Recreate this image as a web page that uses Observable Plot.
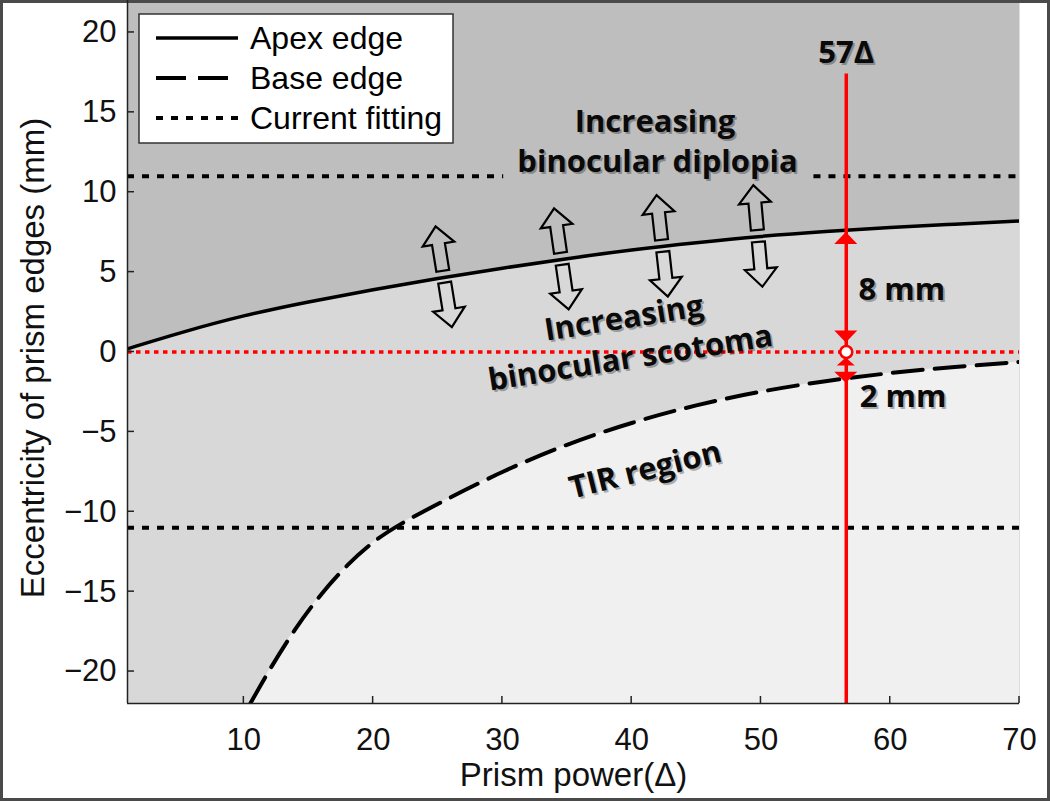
<!DOCTYPE html>
<html><head><meta charset="utf-8">
<script src="https://cdn.jsdelivr.net/npm/d3@7"></script>
<script src="https://cdn.jsdelivr.net/npm/@observablehq/plot@0.6"></script>
<style>
html,body{margin:0;padding:0;background:#fff;}
#chart{width:1050px;height:801px;}
</style></head><body><div id="chart"></div>
<script>
// ---- data ----
const prismPower = [1, 5, 10, 15, 20, 25, 30, 35, 40, 45, 50, 55, 60, 65, 70];
const apexEdge   = [0.2, 1.2, 2.3, 3.15, 3.9, 4.62, 5.25, 5.85, 6.4, 6.85, 7.25, 7.55, 7.8, 8.0, 8.2];
const basePower  = [10.5, 12, 14, 16, 18, 20, 22, 25, 30, 35, 40, 45, 50, 55, 60, 65, 70];
const baseEdge   = [-22, -19.85, -17.25, -15.1, -13.3, -11.85, -10.8, -9.5, -7.45, -5.75, -4.4, -3.3, -2.45, -1.8, -1.3, -0.93, -0.62];

const fittingY    = [11, 11, -11];
const fittingFrom = [1, 54.1, 1];
const fittingTo   = [30.1, 70, 70];

const selectedPower = 56.6;
const selectedTop = 17.4;
const redArrowY   = [7.6, 0, 0, -1.7];
const redArrowDir = ["up", "down", "up", "down"];

const arrowPower = [25.5, 34.6, 42.4, 49.8];

const xTicks = [10, 20, 30, 40, 50, 60, 70];
const yTicks = [-20, -15, -10, -5, 0, 5, 10, 15, 20];
const xLabel = "Prism power(Δ)";
const yLabel = "Eccentricity of prism edges (mm)";
const legendLabels = ["Apex edge", "Base edge", "Current fitting"];

const regionLabels = ["Increasing", "binocular diplopia", "Increasing", "binocular scotoma", "TIR region"];
const regionLabelX = [41.8, 42.0, 39.4, 39.9, 41.05];
const regionLabelY = [14.4, 11.9, 2.1, -0.4, -7.4];
const measureLabels = ["57Δ", "8 mm", "2 mm"];
const measureX = [56.6, 60.9, 61.0];
const measureY = [18.7, 3.9, -2.8];

// ---- tables built from the arrays ----
const apex = prismPower.map((x, i) => ({x, y: apexEdge[i]}));
const base = basePower.map((x, i) => ({x, y: baseEdge[i]}));
const fitting = fittingY.map((y, i) => ({y, x1: fittingFrom[i], x2: fittingTo[i]}));
const regions = regionLabels.map((t, i) => ({t, x: regionLabelX[i], y: regionLabelY[i]}));
const measures = measureLabels.map((t, i) => ({t, x: measureX[i], y: measureY[i]}));
const apexAt = d3.scaleLinear().domain(prismPower).range(apexEdge);

const regionAngles = [0, 0, -9, -9, -14];
const labelFont = "'Open Sans', Lato, sans-serif";
const axisFont = "'Liberation Sans', Arial, sans-serif";
const CURVE = "basis";

const DARK = "#bebebe", MID = "#d8d8d8", LIGHT = "#f0f0f0", RED = "#ff0000";

function decorations(index, scales, values, dim) {
  const sx = scales.x, sy = scales.y;
  const g = d3.create("svg:g");
  const L = dim.marginLeft, B = dim.height - dim.marginBottom;

  // hollow double arrows perpendicular to the apex edge
  const shape = "M-6.5,-6L-6.5,-33L-16,-33L0,-51L16,-33L6.5,-33L6.5,-6Z";
  for (const p of arrowPower) {
    const cx = sx(p), cy = sy(apexAt(p));
    const a = Math.atan2(sy(apexAt(p + 1)) - sy(apexAt(p - 1)), sx(p + 1) - sx(p - 1)) * 180 / Math.PI;
    for (const r of [a, a + 180]) {
      g.append("path").attr("d", shape)
        .attr("transform", `translate(${cx},${cy}) rotate(${r})`)
        .attr("fill", "none").attr("stroke", "#000").attr("stroke-width", 2.2)
        .attr("stroke-linejoin", "miter");
    }
  }

  // red arrowheads on the selected prism power
  const px = sx(selectedPower);
  const spec = [{off: 2, h: 12, w: 23}, {off: -9, h: 12, w: 23}, {off: 6, h: 8, w: 18}, {off: 4, h: 11, w: 23}];
  redArrowY.forEach((v, i) => {
    const s = spec[i];
    const tip = sy(v) + s.off;
    const baseY = redArrowDir[i] === "up" ? tip + s.h : tip - s.h;
    g.append("path")
      .attr("d", `M${px},${tip}L${px - s.w / 2},${baseY}L${px + s.w / 2},${baseY}Z`)
      .attr("fill", RED);
  });

  // inward ticks
  for (const t of yTicks) {
    g.append("line").attr("x1", L).attr("x2", L + 7).attr("y1", sy(t)).attr("y2", sy(t))
      .attr("stroke", "#222").attr("stroke-width", 1.5);
  }
  for (const t of xTicks) {
    g.append("line").attr("x1", sx(t)).attr("x2", sx(t)).attr("y1", B).attr("y2", B - 7)
      .attr("stroke", "#222").attr("stroke-width", 1.5);
  }

  // legend
  const lx = L + 12, ly = dim.marginTop + 14;
  const lg = g.append("g").attr("transform", `translate(${lx},${ly})`);
  lg.append("rect").attr("width", 314).attr("height", 129)
    .attr("fill", "#fff").attr("stroke", "#333").attr("stroke-width", 1.5);
  const styles = [
    {w: 3.5, dash: null},
    {w: 4, dash: "30,12"},
    {w: 4, dash: "7,8"}
  ];
  legendLabels.forEach((lab, i) => {
    const yy = 24 + i * 40;
    const ln = lg.append("line").attr("x1", 17).attr("x2", 99).attr("y1", yy).attr("y2", yy)
      .attr("stroke", "#000").attr("stroke-width", styles[i].w);
    if (styles[i].dash) ln.attr("stroke-dasharray", styles[i].dash);
    lg.append("text").attr("x", 111).attr("y", yy).attr("dy", "0.35em")
      .attr("text-anchor", "start")
      .attr("font-size", 32).attr("font-family", axisFont)
      .attr("fill", "#000").text(lab);
  });

  // figure border
  g.append("rect").attr("x", 1.5).attr("y", 1.5).attr("width", dim.width - 3).attr("height", dim.height - 3)
    .attr("fill", "none").attr("stroke", "#4a4a4a").attr("stroke-width", 3);
  return g.node();
}

const textShadow = (data, opts) => [
  Plot.text(data, {...opts, fill: "#000", fillOpacity: 0.28, dx: (opts.dx || 0) + 2, dy: (opts.dy || 0) + 2}),
  Plot.text(data, {...opts, fill: "#0a0a0a"})
];

const chart = Plot.plot({
  width: 1050, height: 801,
  marginLeft: 127, marginRight: 31, marginTop: 0, marginBottom: 98,
  x: {domain: [1, 70]},
  y: {domain: [-22, 22]},
  style: {fontFamily: axisFont, background: "#fff", color: "#111", overflow: "visible"},
  marks: [
    Plot.frame({fill: DARK, stroke: null}),
    Plot.areaY(apex, {x: "x", y1: -22, y2: "y", fill: MID, curve: CURVE, clip: true}),
    Plot.areaY(base, {x: "x", y1: -22, y2: "y", fill: LIGHT, curve: CURVE, clip: true}),
    Plot.ruleY(fitting, {y: "y", x1: "x1", x2: "x2", stroke: "#000", strokeWidth: 4, strokeDasharray: "7,8"}),
    Plot.ruleY([0], {stroke: RED, strokeWidth: 3.5, strokeDasharray: "4.5,4.5"}),
    Plot.line(apex, {x: "x", y: "y", stroke: "#000", strokeWidth: 3.5, curve: CURVE, clip: true}),
    Plot.line(base, {x: "x", y: "y", stroke: "#000", strokeWidth: 4, strokeDasharray: "30,12", curve: CURVE, clip: true}),
    Plot.ruleX([selectedPower], {y1: selectedTop, y2: -22, stroke: RED, strokeWidth: 3.5}),
    decorations,
    Plot.dot([{x: selectedPower, y: 0}], {x: "x", y: "y", r: 6, fill: "#fff", stroke: RED, strokeWidth: 2.5}),
    ...textShadow(regions, {x: "x", y: "y", text: "t", rotate: (d, i) => regionAngles[i], fontSize: 31, fontWeight: "bold", fontFamily: labelFont}),
    ...textShadow(measures, {x: "x", y: "y", text: "t", fontSize: 31, fontWeight: "bold", fontFamily: labelFont}),
    Plot.ruleX([1], {stroke: "#222", strokeWidth: 1.5}),
    Plot.ruleY([-22], {stroke: "#222", strokeWidth: 1.5}),
    Plot.axisY({ticks: yTicks, tickSize: 0, tickPadding: 11, fontSize: 31, label: null}),
    Plot.axisX({ticks: xTicks, tickSize: 0, tickPadding: 24, fontSize: 31, label: null}),
    Plot.text([xLabel], {frameAnchor: "bottom", textAnchor: "middle", lineAnchor: "middle", dy: 72, fontSize: 33, fill: "#111"}),
    Plot.text([yLabel], {frameAnchor: "left", textAnchor: "middle", lineAnchor: "middle", rotate: -90, dx: -94, dy: 6, fontSize: 33, fill: "#111"})
  ]
});
document.getElementById("chart").appendChild(chart);
</script>
</body></html>
